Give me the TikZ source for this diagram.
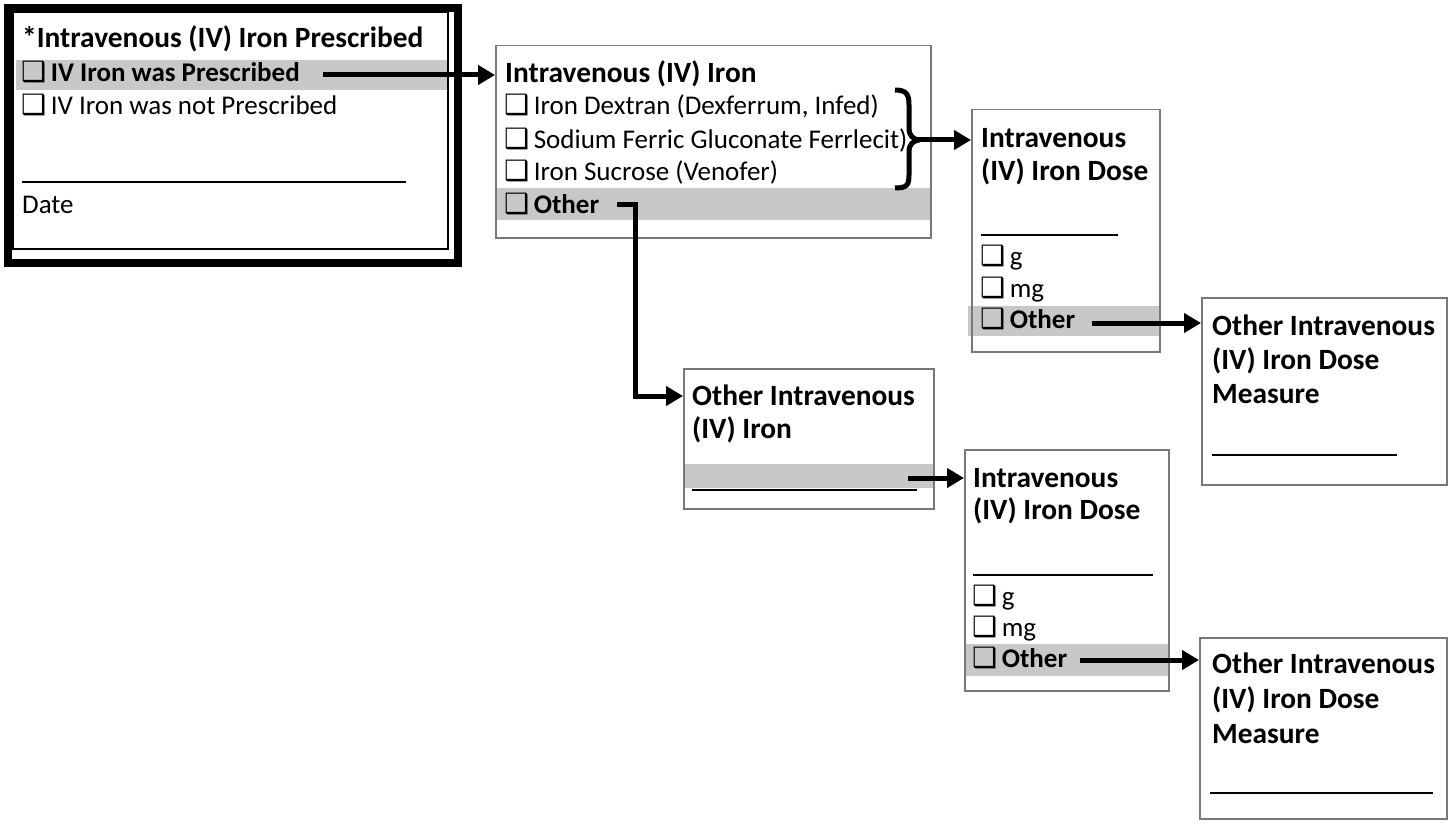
\documentclass[tikz,border=0pt]{standalone}
\usepackage{fontspec}
\setmainfont{Carlito}
\newfontfamily\djv{DejaVu Sans}
\usetikzlibrary{arrows.meta}
\definecolor{bandgray}{RGB}{200,200,200}
\definecolor{boxgray}{RGB}{120,120,120}
\newcommand\cbx{{\djv\fontsize{28}{33}\selectfont\kern-1pt\char"2751}\hspace{4.5pt}}
\begin{document}
\begin{tikzpicture}[x=1pt,y=-1pt,
  txt/.style={anchor=base west, inner sep=0pt, font=\fontsize{27}{33}\selectfont},
  btxt/.style={anchor=base west, inner sep=0pt, font=\fontsize{27}{33}\selectfont\bfseries},
  ttl/.style={anchor=base west, inner sep=0pt, font=\fontsize{29.4}{33}\selectfont\bfseries},
  box/.style={draw=boxgray, line width=1.5pt, anchor=north west, inner sep=0pt},
  bandc/.style={fill=bandgray},
  arr/.style={line width=5pt, -{Triangle[length=17pt,width=19pt]}},
  blank/.style={line width=1.5pt}
]
\useasboundingbox (0,0) rectangle (1453,824);
% bands
\fill[bandc] (16,60) rectangle (447,90);
\fill[bandc] (495,188) rectangle (930,220);
\fill[bandc] (968,306) rectangle (1159,336);
\fill[bandc] (683,464) rectangle (933,488);
\fill[bandc] (964,644) rectangle (1168,676);
% boxes
\node[draw=black, line width=8pt, anchor=north west, inner sep=0pt, minimum width=450pt, minimum height=255pt] (b1) at (4,4) {};
\node[draw=black, line width=1.5pt, anchor=north west, inner sep=0pt, minimum width=435pt, minimum height=236pt] (b1i) at (12,12) {};
\node[box, minimum width=435pt, minimum height=192pt] (b2) at (495,45) {};
\node[box, minimum width=188pt, minimum height=242pt] (b3) at (971,109) {};
\node[box, minimum width=245pt, minimum height=187pt] (b4) at (1201,297) {};
\node[box, minimum width=250pt, minimum height=140pt] (b5) at (683,368) {};
\node[box, minimum width=204pt, minimum height=241pt] (b6) at (964,449) {};
\node[box, minimum width=247pt, minimum height=181pt] (b7) at (1199,637) {};
% box 1 text
\node[ttl] (t1) at (22,48) {*Intravenous (IV) Iron Prescribed};
\node[btxt] (r11) at (22,82) {\cbx IV Iron was Prescribed};
\node[txt] (r12) at (22,114) {\cbx IV Iron was not Prescribed};
\draw[blank] (22,182) -- (406,182);
\node[txt] (date) at (22,213) {Date};
% box 2 text
\node[ttl] (t2) at (505,83) {Intravenous (IV) Iron};
\node[txt] (r21) at (505,115) {\cbx Iron Dextran (Dexferrum, Infed)};
\node[txt] (r22) at (505,148) {\cbx Sodium Ferric Gluconate Ferrlecit)};
\node[txt] (r23) at (505,180) {\cbx Iron Sucrose (Venofer)};
\node[btxt] (r24) at (505,213) {\cbx Other};
% box 3 text
\node[ttl] (t3a) at (981,147) {Intravenous};
\node[ttl] (t3b) at (981,180) {(IV) Iron Dose};
\draw[blank] (981,235) -- (1118,235);
\node[txt] (r31) at (981,265) {\cbx g};
\node[txt] (r32) at (981,297) {\cbx mg};
\node[btxt] (r33) at (981,328) {\cbx Other};
% box 4 text
\node[ttl] (t4a) at (1212,335) {Other Intravenous};
\node[ttl] (t4b) at (1212,369) {(IV) Iron Dose};
\node[ttl] (t4c) at (1212,403) {Measure};
\draw[blank] (1212,455) -- (1397,455);
% box 5 text
\node[ttl] (t5a) at (692,405) {Other Intravenous};
\node[ttl] (t5b) at (692,438) {(IV) Iron};
\draw[blank] (692,490) -- (917,490);
% box 6 text
\node[ttl] (t6a) at (973,487) {Intravenous};
\node[ttl] (t6b) at (973,519) {(IV) Iron Dose};
\draw[blank] (973,575) -- (1153,575);
\node[txt] (r61) at (973,605) {\cbx g};
\node[txt] (r62) at (973,636) {\cbx mg};
\node[btxt] (r63) at (973,667) {\cbx Other};
% box 7 text
\node[ttl] (t7a) at (1212,673) {Other Intravenous};
\node[ttl] (t7b) at (1212,708) {(IV) Iron Dose};
\node[ttl] (t7c) at (1212,743) {Measure};
\draw[blank] (1210,793) -- (1433,793);
% brace
\draw[line width=5pt, line cap=butt, line join=round] (895,90) .. controls (907,90) and (909,95) .. (909,105) -- (909,128) .. controls (909,136) and (913,139) .. (919,140) .. controls (913,141) and (909,144) .. (909,152) -- (909,175) .. controls (909,185) and (907,188) .. (895,188);
\coordinate (bt) at (917,140);
% connectors
\coordinate (s1) at (323,75);
\coordinate (s2) at (617,204);
\coordinate (e5) at (683,396);
\coordinate (s3) at (1092,323);
\coordinate (s5) at (908,478);
\coordinate (s6) at (1080,660);
\draw[arr] (s1) -- (s1 -| b2.west);
\draw[arr] (bt) -- (bt -| b3.west);
\draw[arr, line join=miter] (s2) -- ++(18,0) |- (e5);
\draw[arr] (s3) -- (s3 -| b4.west);
\draw[arr] (s5) -- (s5 -| b6.west);
\draw[arr] (s6) -- (s6 -| b7.west);
\end{tikzpicture}
\end{document}
